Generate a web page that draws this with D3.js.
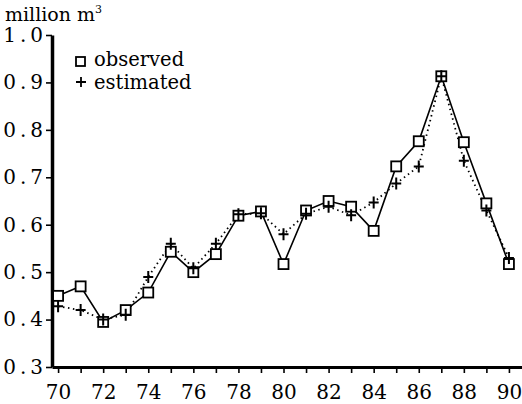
<!DOCTYPE html>
<html>
<head>
<meta charset="utf-8">
<script src="https://cdn.jsdelivr.net/npm/d3@7"></script>
<style>
  body { margin: 0; background: #fff; }
  svg { display: block; }
  text { font-family: "DejaVu Serif", "Liberation Serif", serif; fill: #000; }
</style>
</head>
<body>
<svg id="chart" width="522" height="404"></svg>
<script>
// years and the two series
const years = d3.range(70, 91);
const observed = [0.45, 0.47, 0.395, 0.42, 0.457, 0.543, 0.50, 0.538, 0.619, 0.628, 0.517,
  0.63, 0.65, 0.638, 0.587, 0.723, 0.776, 0.913, 0.774, 0.645, 0.517];
const estimated = [0.428, 0.42, 0.40, 0.41, 0.49, 0.56, 0.508, 0.56, 0.622, 0.624, 0.58,
  0.623, 0.638, 0.62, 0.647, 0.687, 0.723, 0.913, 0.735, 0.63, 0.53];
const yTicks = [0.3, 0.4, 0.5, 0.6, 0.7, 0.8, 0.9, 1.0];
const xLabels = [70, 72, 74, 76, 78, 80, 82, 84, 86, 88, 90];

const svg = d3.select("#chart");

const x = d3.scaleLinear().domain([69.73, 90.58]).range([52, 522]);
const y = d3.scaleLinear().domain([0.3, 1.0]).range([367, 35]);

// x axis: ticks every year pointing down, labels on even years
const xAxis = svg.append("g")
  .attr("transform", "translate(0,367)")
  .call(d3.axisBottom(x).tickValues(years).tickSize(6).tickSizeOuter(0)
    .tickFormat((d) => (xLabels.includes(d) ? d : "")));
xAxis.select(".domain").attr("stroke-width", 3);
xAxis.selectAll(".tick line").attr("stroke-width", 1.6);
xAxis.selectAll(".tick text")
  .attr("font-size", 20).attr("y", 15).attr("dy", "0.85em");

// y axis
const yAxis = svg.append("g")
  .attr("transform", "translate(52,0)")
  .call(d3.axisLeft(y).tickValues(yTicks).tickSize(6).tickSizeOuter(0)
    .tickFormat(d3.format(".1f")));
yAxis.select(".domain").attr("stroke-width", 3.5);
yAxis.selectAll(".tick line").attr("stroke-width", 1.6);
yAxis.selectAll(".tick text")
  .attr("font-size", 20).attr("x", -5).attr("letter-spacing", 4);

// unit label
svg.append("text").attr("x", 5).attr("y", 21).attr("font-size", 19)
  .text("million m")
  .append("tspan").attr("font-size", 11).attr("dy", -8).text("3");

const line = d3.line().x((d, i) => x(years[i])).y((d) => y(d));

// estimated: dotted line with + markers
svg.append("path").datum(estimated)
  .attr("d", line).attr("fill", "none").attr("stroke", "#000")
  .attr("stroke-width", 1.8).attr("stroke-dasharray", "1.5,3.5");

// observed: solid line
svg.append("path").datum(observed)
  .attr("d", line).attr("fill", "none").attr("stroke", "#000").attr("stroke-width", 1.6);

svg.append("g").selectAll("rect").data(observed).join("rect")
  .attr("x", (d, i) => x(years[i]) - 5).attr("y", (d) => y(d) - 5)
  .attr("width", 10).attr("height", 10)
  .attr("fill", "#fff").attr("stroke", "#000").attr("stroke-width", 1.8);

svg.append("g").selectAll("path").data(estimated).join("path")
  .attr("transform", (d, i) => `translate(${x(years[i])},${y(d)})`)
  .attr("d", "M-5,0H5M0,-6V6")
  .attr("stroke", "#000").attr("stroke-width", 2).attr("fill", "none");

// legend
const legend = svg.append("g");
legend.append("rect").attr("x", 76).attr("y", 57).attr("width", 9).attr("height", 9)
  .attr("fill", "#fff").attr("stroke", "#000").attr("stroke-width", 1.8);
legend.append("text").attr("x", 94).attr("y", 66).attr("font-size", 19.5).text("observed");
legend.append("path").attr("d", "M76,82H86M81,77V87")
  .attr("stroke", "#000").attr("stroke-width", 1.8);
legend.append("text").attr("x", 94).attr("y", 89).attr("font-size", 19.5).text("estimated");
</script>
</body>
</html>
